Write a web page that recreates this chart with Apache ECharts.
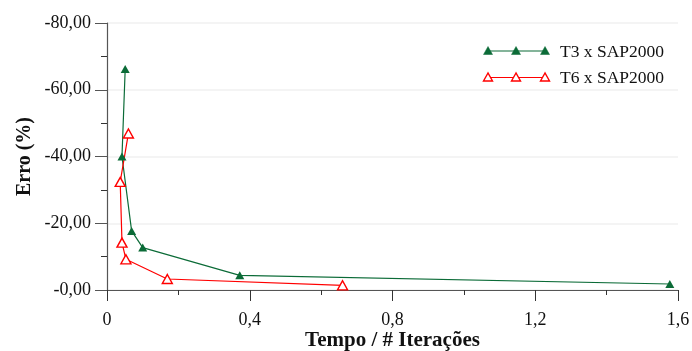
<!DOCTYPE html>
<html>
<head>
<meta charset="utf-8">
<script src="https://cdn.jsdelivr.net/npm/echarts@6/dist/echarts.min.js"></script>
<style>
  html, body { margin: 0; padding: 0; background: #fff; }
  #chart { width: 692px; height: 351px; }
</style>
</head>
<body>
<div id="chart"></div>
<script>
// dados: [tempo / # iterações, erro %]
const t3Name = "T3 x SAP2000";
const t3Data = [
  [0.051, -66.2],
  [0.042, -40.0],
  [0.069, -17.7],
  [0.100, -12.7],
  [0.372, -4.4],
  [1.577, -1.8],
];
const t6Name = "T6 x SAP2000";
const t6Data = [
  [0.060, -46.9],
  [0.037, -32.4],
  [0.042, -14.2],
  [0.053, -9.2],
  [0.169, -3.3],
  [0.660, -1.4],
];
const yTicks = [-80, -60, -40, -20, 0];
const xTicks = [0, 0.4, 0.8, 1.2, 1.6];

const green = "#0b6b37";
const red = "#ff0000";
const font = "'Liberation Serif', 'Times New Roman', serif";

const chart = echarts.init(document.getElementById("chart"));

const fmtY = (v) => (v === 0 ? "-0,00" : v.toFixed(2).replace(".", ","));
const fmtX = (v) => (v === 0 ? "0" : v.toFixed(1).replace(".", ","));

// legenda desenhada à mão (três marcadores por linha)
const legendRow = (y, color, hollow, label) => {
  const xs = [488, 516, 545];
  const kids = [{
    type: "line",
    shape: { x1: xs[0], y1: y, x2: xs[2], y2: y },
    style: { stroke: color, lineWidth: 1.2 },
  }];
  xs.forEach((x) => {
    kids.push({
      type: "polygon",
      shape: { points: [[x, y - 4.5], [x - 4.5, y + 3.5], [x + 4.5, y + 3.5]] },
      style: hollow
        ? { fill: "#fff", stroke: color, lineWidth: 1.4 }
        : { fill: color, stroke: color, lineWidth: 0.5 },
    });
  });
  kids.push({
    type: "text",
    x: 560,
    y: y + 1,
    style: {
      text: label,
      font: "17.5px " + font,
      fill: "#111",
      verticalAlign: "middle",
    },
  });
  return kids;
};

const option = {
  animation: false,
  grid: { left: 107, right: 14, top: 23, bottom: 61, outerBoundsMode: "none" },
  xAxis: {
    type: "value",
    min: xTicks[0],
    max: xTicks[xTicks.length - 1],
    interval: 0.4,
    name: "Tempo / # Iterações",
    nameLocation: "middle",
    nameGap: 40,
    nameMoveOverlap: false,
    nameTextStyle: {
      fontFamily: font, fontSize: 21, fontWeight: "bold", color: "#111",
      verticalAlign: "top",
    },
    axisLine: { lineStyle: { color: "#555", width: 1.2 } },
    axisTick: { length: 11, lineStyle: { color: "#333" } },
    minorTick: { show: true, splitNumber: 2, length: 5, lineStyle: { color: "#333" } },
    axisLabel: {
      fontFamily: font, fontSize: 18, color: "#111", margin: 21,
      formatter: fmtX,
    },
    splitLine: { show: false },
  },
  yAxis: {
    type: "value",
    inverse: true,
    min: yTicks[0],
    max: yTicks[yTicks.length - 1],
    interval: 20,
    name: "Erro (%)",
    nameLocation: "middle",
    nameGap: 72,
    nameMoveOverlap: false,
    nameTextStyle: { fontFamily: font, fontSize: 20, fontWeight: "bold", color: "#111" },
    axisLine: { show: true, lineStyle: { color: "#555", width: 1.2 } },
    axisTick: { length: 12, lineStyle: { color: "#555" } },
    minorTick: { show: true, splitNumber: 2, length: 6, lineStyle: { color: "#333" } },
    axisLabel: {
      fontFamily: font, fontSize: 18, color: "#111", margin: 16,
      formatter: fmtY,
    },
    splitLine: { show: true, lineStyle: { color: "#f0f0f0", width: 1.5 } },
  },
  series: [
    {
      name: t3Name,
      type: "line",
      data: t3Data,
      symbol: "triangle",
      symbolSize: [9, 8],
      lineStyle: { color: green, width: 1.2 },
      itemStyle: { color: green },
    },
    {
      name: t6Name,
      type: "line",
      data: t6Data,
      symbol: "triangle",
      symbolSize: [10, 9],
      lineStyle: { color: red, width: 1.2 },
      itemStyle: { color: "#fff", borderColor: red, borderWidth: 1.4 },
    },
  ],
  graphic: [
    ...legendRow(51, green, false, t3Name),
    ...legendRow(77.5, red, true, t6Name),
  ],
};

chart.setOption(option);
</script>
</body>
</html>
